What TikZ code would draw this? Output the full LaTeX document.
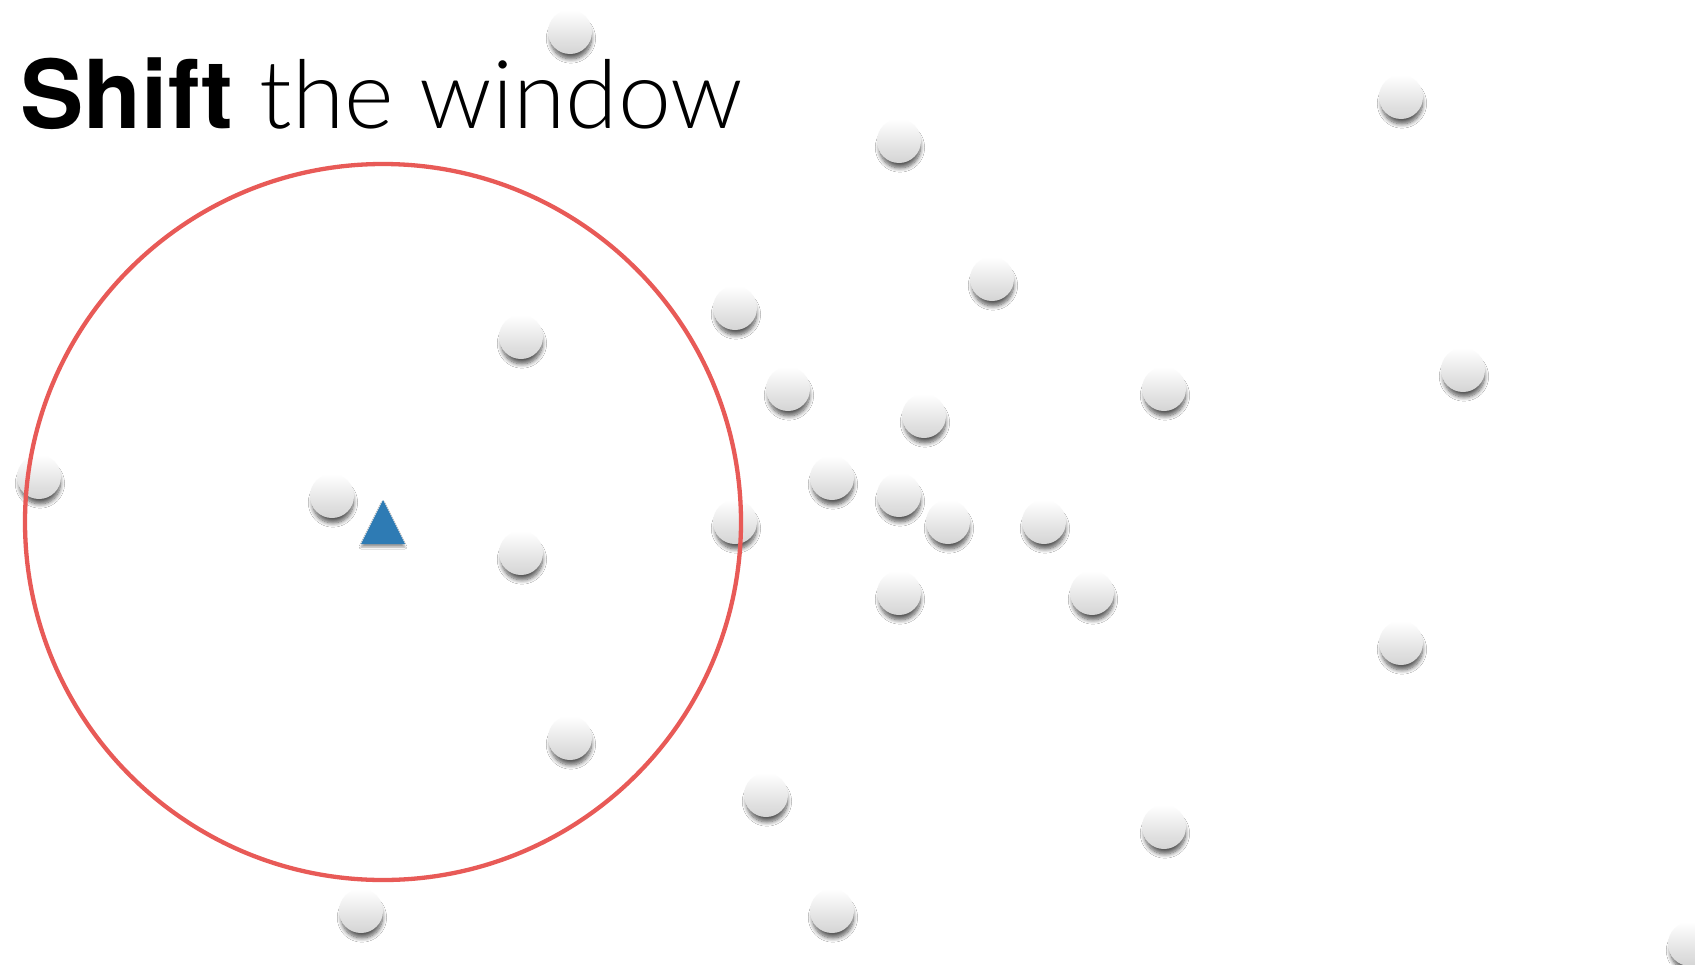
\documentclass[tikz,border=0pt]{standalone}
\usepackage{fontspec}
\setmainfont{TeX Gyre Heros}
\newfontfamily\thinfont{Lato Light}
\usetikzlibrary{shadows.blur}
\definecolor{winred}{HTML}{E85A57}
\definecolor{triblue}{HTML}{2E7BB4}
\tikzset{
  ball/.style={circle, minimum size=44pt, inner sep=0pt, top color=white, bottom color=black!17,
    draw=none, blur shadow={shadow xshift=1pt, shadow yshift=-7pt, shadow scale=0.93, shadow blur radius=4.5pt, shadow blur steps=8, shadow opacity=65}},
  window/.style={draw=winred, line width=4.3pt},
  centroid/.style={fill=triblue, blur shadow={shadow xshift=0pt, shadow yshift=-3pt, shadow blur radius=2pt, shadow opacity=40}},
  title/.style={anchor=base west, inner sep=0pt, font=\fontsize{95}{100}\selectfont}
}
\begin{document}
\begin{tikzpicture}[x=1pt,y=-1pt]
\useasboundingbox (0,0) rectangle (1695,964);
\clip (0,0) rectangle (1695,964);
\fill[white] (0,0) rectangle (1695,964);
\foreach \n/\x/\y in {b1/570/32, b2/1401/97, b3/899/141, b4/992/279, b5/735/308, b6/521/337,
  b7/1463/370, b8/788/389, b9/1164/389, b10/924/416, b11/39/477, b12/332/496, b13/832/478,
  b14/899/495, b15/948/522, b16/1044/522, b17/735/522, b18/521/553, b19/899/593, b20/1092/593,
  b21/1401/643, b22/570/738, b23/766/795, b24/1164/827, b25/361/911, b26/832/911, b27/1690/944}
  \node[ball] (\n) at (\x,\y) {};
\node[title] (t) at (20,128) {\textbf{Shift} {\thinfont the window}};
\coordinate (c) at (383,522);
\draw[window] (c) circle[radius=358];
\fill[centroid] (383,500) -- (405,544) -- (361,544) -- cycle;
\end{tikzpicture}
\end{document}
